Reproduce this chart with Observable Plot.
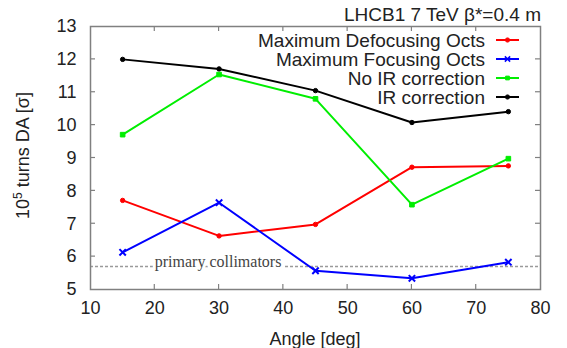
<!DOCTYPE html>
<html><head><meta charset="utf-8">
<script src="https://cdn.jsdelivr.net/npm/d3@7"></script>
<script src="https://cdn.jsdelivr.net/npm/@observablehq/plot@0.6"></script>
<style>body{margin:0;background:#fff} svg{display:block}</style>
</head><body><div id="chart"></div>
<script>
const angles = [15, 30, 45, 60, 75];
const seriesNames = ["Maximum Defocusing Octs", "Maximum Focusing Octs", "No IR correction", "IR correction"];
const seriesColors = ["#ff0000", "#0000ff", "#00ee00", "#000000"];
const seriesSymbols = ["circle", "times", "square", "circle"];
const defocusing = [7.71, 6.63, 6.98, 8.72, 8.76];
const focusing = [6.13, 7.64, 5.57, 5.34, 5.83];
const noIRcorrection = [9.71, 11.54, 10.80, 7.58, 8.98];
const IRcorrection = [12.00, 11.71, 11.05, 10.08, 10.41];
const seriesValues = [defocusing, focusing, noIRcorrection, IRcorrection];
const xTicks = [10, 20, 30, 40, 50, 60, 70, 80];
const yTicks = [5, 6, 7, 8, 9, 10, 11, 12, 13];
const collimatorLevel = 5.7;
const collimatorLabelAngle = 20;
const collimatorLabel = "primary collimators";
const titleText = "LHCB1 7 TeV β*=0.4 m";
const xLabel = "Angle [deg]";

const font = "'Liberation Sans', Arial, sans-serif";
const symR = s => s === "times" ? 3 : s === "square" ? 2.6 : 2.2;
const marks = [
  Plot.ruleY([collimatorLevel], {stroke: "#9a9a9a", strokeWidth: 1.5, strokeDasharray: "3,2"}),
  Plot.text([collimatorLabel], {x: collimatorLabelAngle, y: collimatorLevel, text: d => d, textAnchor: "start", lineAnchor: "bottom", dy: 1,
    fontFamily: "'Liberation Serif', 'Times New Roman', serif", fontSize: 16, fill: "#444", stroke: "white", strokeWidth: 6})
];
seriesValues.forEach((vals, si) => {
  const pts = vals.map((v, i) => ({angle: angles[i], da: v}));
  const s = seriesSymbols[si];
  marks.push(Plot.line(pts, {x: "angle", y: "da", stroke: seriesColors[si], strokeWidth: 2}));
  marks.push(Plot.dot(pts, {x: "angle", y: "da", r: symR(s), symbol: s,
    fill: s === "times" ? "none" : seriesColors[si], stroke: seriesColors[si], strokeWidth: s === "times" ? 2 : 1}));
});
marks.push(Plot.frame({stroke: "#808080", strokeWidth: 1.5}));
marks.push(Plot.axisX({ticks: xTicks, tickSize: 0, tickPadding: 12, fontSize: 18, label: null, fill: "#222", fontFamily: font}));
marks.push(Plot.axisY({ticks: yTicks, tickSize: 0, tickPadding: 14, fontSize: 18, label: null, fill: "#222", fontFamily: font}));

const plot = Plot.plot({
  width: 567, height: 348,
  marginLeft: 90, marginRight: 27, marginTop: 26, marginBottom: 59,
  x: {domain: [10, 80]},
  y: {domain: [5, 13]},
  style: {fontFamily: font, background: "white"},
  marks
});
document.getElementById("chart").appendChild(plot);

const svg = d3.select(plot);
const xs = plot.scale("x"), ys = plot.scale("y");
const X = v => xs.apply(v), Y = v => ys.apply(v);
const x0 = X(10), x1 = X(80), y0 = Y(5), y1 = Y(13);
const tg = svg.append("g").attr("stroke", "#808080").attr("stroke-width", 1.2);
xTicks.slice(1, -1).forEach(t => {
  tg.append("line").attr("x1", X(t)).attr("x2", X(t)).attr("y1", y0).attr("y2", y0 - 5);
  tg.append("line").attr("x1", X(t)).attr("x2", X(t)).attr("y1", y1).attr("y2", y1 + 5);
});
yTicks.slice(1, -1).forEach(t => {
  tg.append("line").attr("y1", Y(t)).attr("y2", Y(t)).attr("x1", x0).attr("x2", x0 + 5);
  tg.append("line").attr("y1", Y(t)).attr("y2", Y(t)).attr("x1", x1).attr("x2", x1 - 5);
});

// title
svg.append("text").attr("x", x1 + 1).attr("y", 21).attr("text-anchor", "end")
  .attr("font-size", 19).attr("fill", "#222").attr("font-family", font).text(titleText);
// x label
svg.append("text").attr("x", (x0 + x1) / 2).attr("y", 345).attr("text-anchor", "middle")
  .attr("font-size", 18).attr("fill", "#222").attr("font-family", font).text(xLabel);
// y label
const yl = svg.append("text").attr("transform", `translate(29,${(y0 + y1) / 2 - 2}) rotate(-90)`).attr("text-anchor", "middle")
  .attr("font-size", 18).attr("fill", "#222").attr("font-family", font);
yl.append("tspan").text("10");
yl.append("tspan").attr("font-size", 12).attr("dy", -7).text("5");
yl.append("tspan").attr("dy", 7).text(" turns DA [σ]");

// legend
const lg = svg.append("g");
seriesNames.forEach((name, i) => {
  const yy = 40 + 19 * i;
  const s = seriesSymbols[i];
  lg.append("text").attr("x", x1 - 55).attr("y", yy).attr("dy", "0.35em").attr("text-anchor", "end")
    .attr("font-size", 19).attr("fill", "#222").attr("font-family", font).text(name);
  lg.append("line").attr("x1", x1 - 44).attr("x2", x1 - 21).attr("y1", yy).attr("y2", yy)
    .attr("stroke", seriesColors[i]).attr("stroke-width", 2);
  lg.append("path").attr("transform", `translate(${x1 - 32.5},${yy})`)
    .attr("d", d3.symbol(s === "times" ? d3.symbolTimes : s === "square" ? d3.symbolSquare : d3.symbolCircle, s === "times" ? 20 : 14)())
    .attr("fill", s === "times" ? "none" : seriesColors[i]).attr("stroke", seriesColors[i]).attr("stroke-width", s === "times" ? 1.5 : 1);
});
</script></body></html>
